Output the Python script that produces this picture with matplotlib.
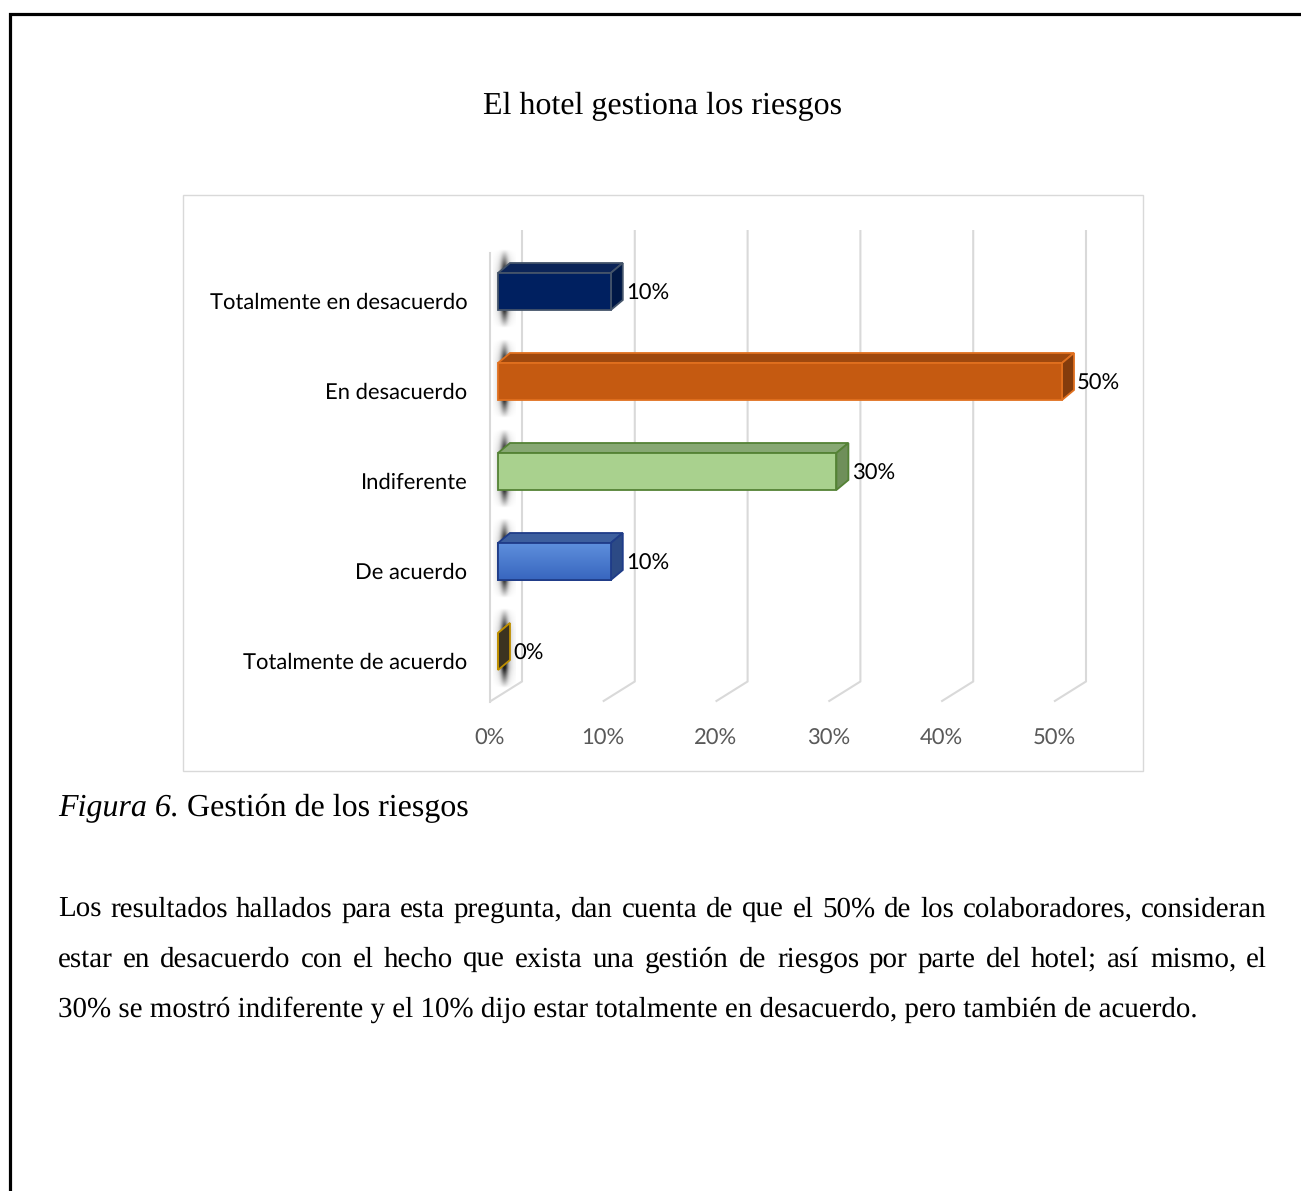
import numpy as np
import matplotlib.pyplot as plt
from matplotlib.patches import Polygon, Rectangle

plt.rcParams["text.hinting"] = "no_hinting"
plt.rcParams["text.hinting_factor"] = 1

# datos del gráfico
categorias = ["Totalmente en desacuerdo", "En desacuerdo", "Indiferente",
              "De acuerdo", "Totalmente de acuerdo"]
porcentajes = [10, 50, 30, 10, 0]
ticks = [0, 10, 20, 30, 40, 50]
tick_labels = ["0%", "10%", "20%", "30%", "40%", "50%"]

titulo = "El hotel gestiona los riesgos"
figura_num = "Figura 6."
figura_txt = " Gestión de los riesgos"
parrafo = [
    "Los resultados hallados para esta pregunta, dan cuenta de que el 50% de los colaboradores, consideran",
    "estar en desacuerdo con el hecho que exista una gestión de riesgos por parte del hotel; así mismo, el",
    "30% se mostró indiferente y el 10% dijo estar totalmente en desacuerdo, pero también de acuerdo.",
]

# colores por barra: frente, cara superior, lateral, borde
c_frente = ["#002060", "#c55a11", "#a9d18e", "#4676cc", "#3b3320"]
c_arriba = ["#0b2458", "#9e480e", "#87a873", "#3d5f9e", "#3b3320"]
c_lado = ["#001846", "#843c0c", "#6f8f5a", "#2c4a85", "#3b3320"]
c_borde = ["#44546a", "#e0701f", "#548235", "#1f3c88", "#bf9000"]

W, H = 1301, 1191
fig = plt.figure(figsize=(W / 100, H / 100), dpi=100)

# hoja en coordenadas de pixel
page = fig.add_axes([0, 0, 1, 1])
page.set_xlim(0, W)
page.set_ylim(H, 0)
page.axis("off")
page.plot([9.5, 9.5, W + 5], [H + 5, 13.5, 13.5], color="black", lw=2.3,
          solid_joinstyle="miter")
page.add_patch(Rectangle((183, 194.5), 960, 576, fill=False, ec="#d9d9d9", lw=1))

serif = "Liberation Serif"
page.text(663, 114, titulo, ha="center", va="baseline", fontsize=23, family=serif)

rend = fig.canvas.get_renderer()
t = page.text(58, 816, figura_num, ha="left", va="baseline", fontsize=23,
              family=serif, style="italic")
w = t.get_window_extent(rend).width
page.text(58 + w, 816, figura_txt, ha="left", va="baseline", fontsize=23, family=serif)

# párrafo justificado: se mide cada palabra y se reparte el espacio sobrante
fs_par = 21
izq, der = 58, 1267
bases = [917, 967, 1017]
for k, (linea, yb) in enumerate(zip(parrafo, bases)):
    if k == len(parrafo) - 1:
        page.text(izq, yb, linea, ha="left", va="baseline", fontsize=fs_par, family=serif)
        continue
    palabras = linea.split(" ")
    anchos = []
    for p in palabras:
        m = page.text(0, 0, p, fontsize=fs_par, family=serif)
        anchos.append(m.get_window_extent(rend).width)
        m.remove()
    hueco = (der - izq - sum(anchos)) / (len(palabras) - 1)
    x = izq
    for p, a in zip(palabras, anchos):
        page.text(round(x), yb, p, ha="left", va="baseline", fontsize=fs_par,
                  family=serif)
        x += a + hueco

# --- gráfico de barras 3D ---
ORIG, PXV = 490.0, 11.28      # px del 0% en el plano frontal, px por punto porcentual
FILA0, PXC = 296.5, 90.0      # px de la primera categoría, px por categoría
x0, x1 = -15 / PXV, 56.0
y_top, y_bot = -0.9, (720 - FILA0) / PXC
L, R = ORIG + PXV * x0, ORIG + PXV * x1
T, B = FILA0 + PXC * y_top, FILA0 + PXC * y_bot
ax = fig.add_axes([L / W, 1 - B / H, (R - L) / W, (B - T) / H])
ax.set_xlim(x0, x1)
ax.set_ylim(y_bot, y_top)
ax.patch.set_visible(False)
for s in ax.spines.values():
    s.set_visible(False)

sans = "Lato"
fs = 16
ax.set_xticks(ticks, tick_labels)
ax.set_yticks(np.arange(len(categorias)) + 0.05, categorias)
ax.tick_params(length=0, labelsize=fs)
ax.tick_params(axis="x", colors="#595959", pad=6)
ax.tick_params(axis="y", colors="black", pad=5.5)
for lab in ax.get_xticklabels() + ax.get_yticklabels():
    lab.set_family(sans)

# profundidad de la pared del fondo y de las barras (en unidades de datos)
DXF, DYF = 32 / PXV, -20 / PXC
FX, FY = 8 / PXV, -5 / PXC
BX, BY = 12 / PXV, -10 / PXC
alto = 37 / PXC
fondo_sup, frente_inf = (230 - FILA0) / PXC, 4.5
grid_c = "#d9d9d9"
for v in ticks:
    ax.plot([v + DXF, v + DXF, v], [fondo_sup, frente_inf + DYF, frente_inf],
            color=grid_c, lw=1.5, zorder=1, solid_capstyle="butt")
ax.plot([0, 0], [(253 - FILA0) / PXC, frente_inf], color=grid_c, lw=1.5, zorder=1)

# sombras difusas sobre la pared izquierda
gx = np.linspace(-1, 1, 60)
gy = np.linspace(0, 1, 160)
GX, GY = np.meshgrid(gx, gy)
perfil_y = np.clip(GY / 0.28, 0, 1) * np.clip((1 - GY) / 0.25, 0, 1)
a = (0.75 * np.exp(-(GX / 0.3) ** 2) + 0.3 * np.exp(-(GX / 0.65) ** 2)) * perfil_y
sombra = np.zeros((len(gy), len(gx), 4))
sombra[..., :3] = 0.12
sombra[..., 3] = np.clip(a, 0, 1)

# degradado vertical para la cara frontal de la barra azul
grad = np.linspace(0, 1, 64)[:, None, None]
claro = np.array([0x5e, 0x8f, 0xdc]) / 255
oscuro = np.array([0x38, 0x66, 0xbf]) / 255
degradado = claro * (1 - grad) + oscuro * grad

cx = 14 / PXV
for i, v in enumerate(porcentajes):
    yc = i + FY
    ytop, ybot = yc - alto / 2, yc + alto / 2
    ax.imshow(sombra, extent=(cx - 1.0, cx + 1.0, ybot + 18 / PXC, ytop - 24 / PXC),
              origin="upper", aspect="auto", zorder=2, interpolation="bilinear")
    barra = ax.barh(yc, v, height=alto, left=FX, color=c_frente[i],
                    edgecolor=c_borde[i], lw=1.3, zorder=4)[0]
    if i == 3:
        img = ax.imshow(degradado, extent=(FX, FX + v, ybot, ytop), origin="upper",
                        aspect="auto", zorder=4.5, interpolation="bilinear")
        img.set_clip_path(barra)
        ax.add_patch(Rectangle((FX, ytop), v, alto, fill=False, ec=c_borde[i],
                               lw=1.3, zorder=4.6))
    ax.add_patch(Polygon([(FX, ytop), (FX + v, ytop), (FX + v + BX, ytop + BY),
                          (FX + BX, ytop + BY)], closed=True, fc=c_arriba[i],
                         ec=c_borde[i], lw=1.3, zorder=3))
    ax.add_patch(Polygon([(FX + v, ytop), (FX + v, ybot), (FX + v + BX, ybot + BY),
                          (FX + v + BX, ytop + BY)], closed=True, fc=c_lado[i],
                         ec=c_borde[i], lw=1.3, zorder=3))
    ax.text(FX + v + 1.35, yc + 0.02, f"{v}%", ha="left", va="center",
            fontsize=fs, family=sans, color="black", zorder=5)

ax.set_xlim(x0, x1)
ax.set_ylim(y_bot, y_top)

fig.savefig("out.png", dpi=100)
